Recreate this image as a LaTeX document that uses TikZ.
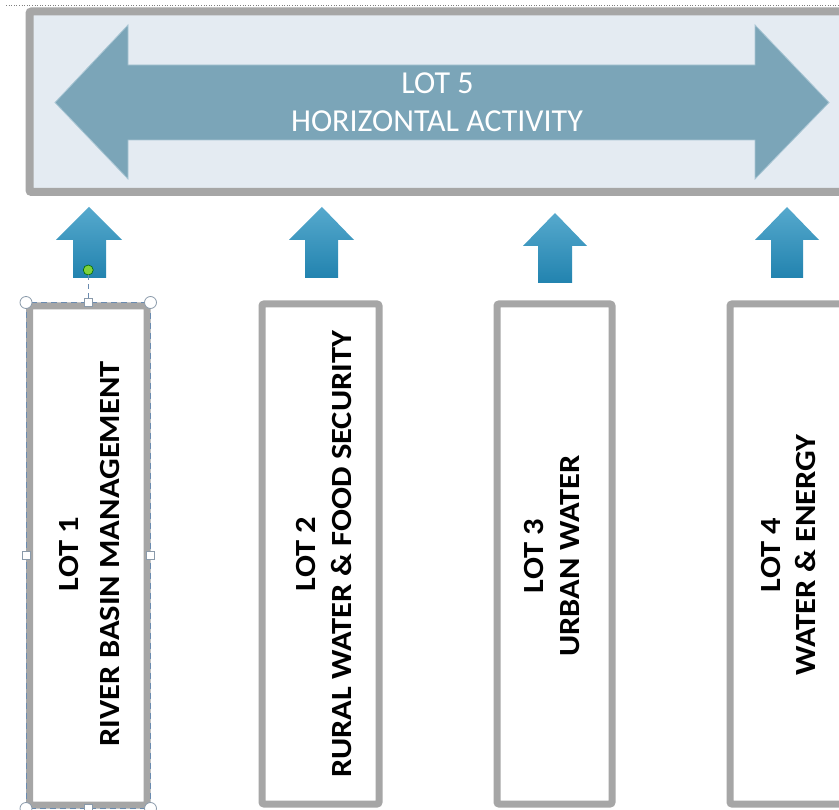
\documentclass[tikz,border=0pt]{standalone}
\usepackage{fontspec}
\setmainfont{Carlito}
\usepackage{graphicx}
\definecolor{framegray}{HTML}{A6A6A6}
\definecolor{panelfill}{HTML}{E4EBF2}
\definecolor{bigarrow}{HTML}{7BA5B8}
\definecolor{bigarrowedge}{HTML}{A9C6D4}
\definecolor{uptop}{HTML}{56A9CD}
\definecolor{upbot}{HTML}{2283AF}
\definecolor{selblue}{HTML}{6A8BB0}
\definecolor{handlegray}{HTML}{8A9AAA}
\definecolor{greendot}{HTML}{7ED23C}
\tikzset{
  lotbox/.style={draw=framegray, line width=7pt, fill=white, rounded corners=2pt, inner sep=0pt},
  uparrow/.style={top color=uptop, bottom color=upbot, draw=none},
  lottext/.style={font=\fontsize{32.5}{32.5}\selectfont\bfseries, text=black, rotate=90, inner sep=0pt, anchor=center},
  toptext/.style={font=\fontsize{32}{32}\selectfont, text=white, inner sep=0pt, anchor=center},
  circhandle/.style={circle, draw=handlegray, fill=white, line width=0.8pt, minimum size=12pt, inner sep=0pt},
  sqhandle/.style={rectangle, draw=handlegray, fill=white, line width=0.8pt, minimum size=8pt, inner sep=0pt},
}
\newcommand{\squeeze}[1]{\scalebox{1}[0.9]{#1}}
\begin{document}
\begin{tikzpicture}[x=1pt,y=-1pt]
\useasboundingbox (0,0) rectangle (839,810);
\clip (0,0) rectangle (839,810);
\fill[white] (0,0) rectangle (839,810);
% dotted top line
\coordinate (dotA) at (6,5);
\coordinate (dotB) at (839,5);
\draw[gray, line width=0.6pt, dotted] (dotA) -- (dotB);
% top panel
\node[draw=framegray, line width=8pt, fill=panelfill, rounded corners=2pt, inner sep=0pt,
      minimum width=840pt, minimum height=180.5pt] (panel) at (449.5,101.75) {};
% big double arrow
\fill[bigarrow, draw=bigarrowedge, line width=0.8pt]
  (55,102.5) -- (128,25) -- (128,65) -- (755,65) -- (755,25) -- (829,102.5)
  -- (755,179) -- (755,140) -- (128,140) -- (128,179) -- cycle;
\node[toptext] (lot5a) at (437.5,83) {LOT 5};
\node[toptext] (lot5b) at (437,121) {HORIZONTAL ACTIVITY};
% small up arrows
\shade[uparrow] (89,207) -- (122,240) -- (106,240) -- (106,278) -- (73,278) -- (73,240) -- (56,240) -- cycle;
\shade[uparrow] (322,207) -- (354,240) -- (338,240) -- (338,278) -- (305,278) -- (305,240) -- (289,240) -- cycle;
\shade[uparrow] (555,213) -- (587,246) -- (572,246) -- (572,283) -- (538,283) -- (538,246) -- (523,246) -- cycle;
\shade[uparrow] (787,207) -- (819,240) -- (803,240) -- (803,278) -- (771,278) -- (771,240) -- (755,240) -- cycle;
% lot boxes
\node[lotbox, minimum width=117.5pt, minimum height=499pt] (b1) at (88.25,555.5) {};
\node[lotbox, minimum width=117pt, minimum height=500pt] (b2) at (320.5,554) {};
\node[lotbox, minimum width=115pt, minimum height=500pt] (b3) at (554.5,554) {};
\node[lotbox, minimum width=120pt, minimum height=500pt] (b4) at (790,554) {};
% texts
\node[lottext] (t1a) at (69.5,554) {\squeeze{LOT 1}};
\node[lottext] (t1b) at (110.5,554) {\squeeze{RIVER BASIN MANAGEMENT}};
\node[lottext] (t2a) at (306,554) {\squeeze{LOT 2}};
\node[lottext] (t2b) at (342,554) {\squeeze{RURAL WATER \& FOOD SECURITY}};
\node[lottext] (t3a) at (534,556) {\squeeze{LOT 3}};
\node[lottext] (t3b) at (570,556) {\squeeze{URBAN WATER}};
\node[lottext] (t4a) at (771,555) {\squeeze{LOT 4}};
\node[lottext] (t4b) at (806,555) {\squeeze{WATER \& ENERGY}};
% selection handles on box 1
\draw[selblue, line width=0.9pt, dash pattern=on 6pt off 4pt] (b1.north west) rectangle (b1.south east);
\node[circle, draw=black!60!green, fill=greendot, line width=0.6pt, minimum size=10pt, inner sep=0pt] (rot) at (88.25,270) {};
\node[sqhandle] (hN) at (b1.north) {};
\draw[selblue, line width=0.9pt, dash pattern=on 5pt off 4pt] (rot) -- (hN);
\node[sqhandle] (hS) at (b1.south) {};
\node[sqhandle] (hW) at (b1.west) {};
\node[sqhandle] (hE) at (b1.east) {};
\node[circhandle] (hNW) at (b1.north west) {};
\node[circhandle] (hNE) at (b1.north east) {};
\node[circhandle] (hSW) at (b1.south west) {};
\node[circhandle] (hSE) at (b1.south east) {};
\end{tikzpicture}
\end{document}
